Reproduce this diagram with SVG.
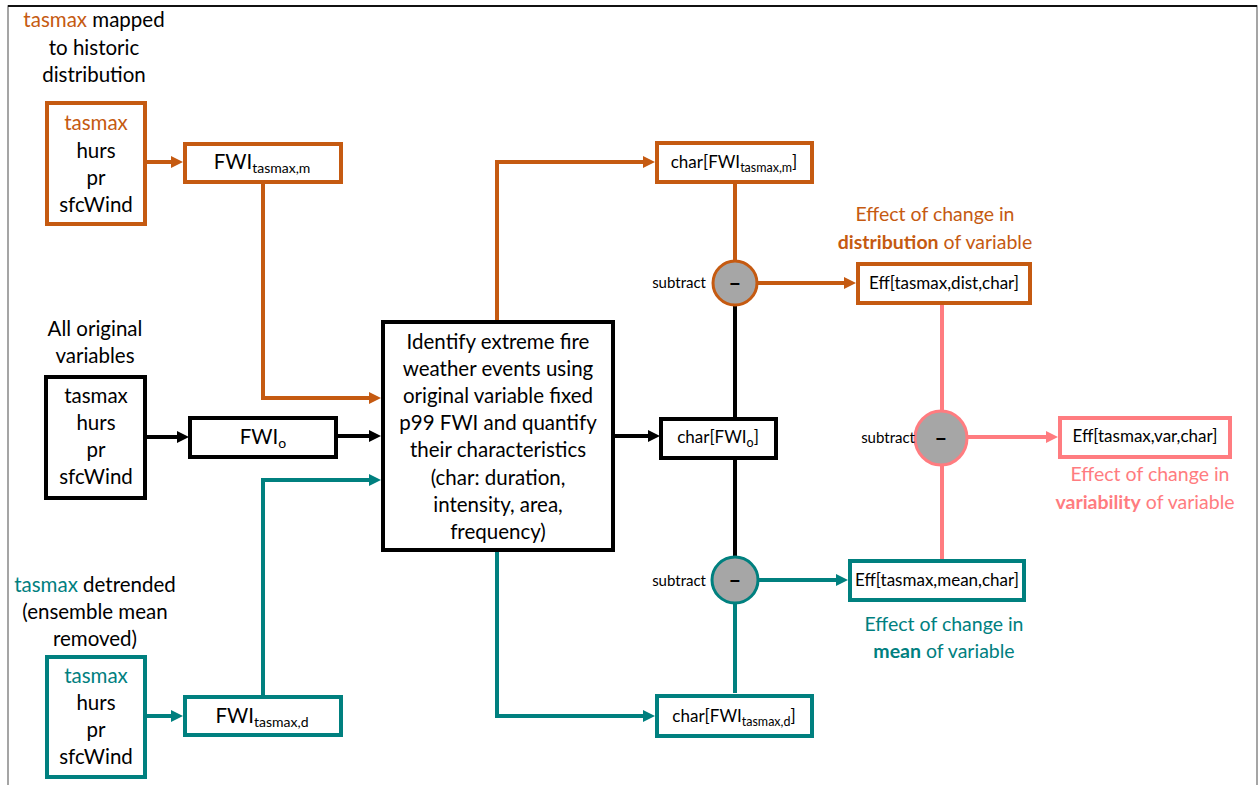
<svg xmlns="http://www.w3.org/2000/svg" width="1258" height="785" viewBox="0 0 1258 785">
<style>
text{font-family:Lato,"Liberation Sans",sans-serif;fill:#000}
.t{font-size:20.5px;text-anchor:middle}
.e{font-size:19.5px}
.s{font-size:17px;text-anchor:middle}
.sub{font-size:15px;text-anchor:end}
.o{fill:#C55A11}.g{fill:#00807F}.r{fill:#FF7C80}
.b{font-weight:bold}
.bo{fill:#fff;stroke:#C55A11;stroke-width:4}
.bk{fill:#fff;stroke:#000;stroke-width:4}
.bt{fill:#fff;stroke:#00807F;stroke-width:4}
.br{fill:#fff;stroke:#FF7C80;stroke-width:4}
.lo{fill:none;stroke:#C55A11;stroke-width:4}
.lk{fill:none;stroke:#000;stroke-width:4}
.lt{fill:none;stroke:#00807F;stroke-width:4}
.lr{fill:none;stroke:#FF7C80;stroke-width:4}
.c{fill:#A6A6A6;stroke-width:3}
.m{font-size:22px;font-weight:bold;text-anchor:middle}
</style>
<defs>
<marker id="ao" viewBox="0 0 12 12" refX="6" refY="6" markerWidth="12" markerHeight="12" markerUnits="userSpaceOnUse" orient="auto"><path d="M0,0L12,6L0,12z" fill="#C55A11"/></marker>
<marker id="ak" viewBox="0 0 12 12" refX="6" refY="6" markerWidth="12" markerHeight="12" markerUnits="userSpaceOnUse" orient="auto"><path d="M0,0L12,6L0,12z" fill="#000"/></marker>
<marker id="at" viewBox="0 0 12 12" refX="6" refY="6" markerWidth="12" markerHeight="12" markerUnits="userSpaceOnUse" orient="auto"><path d="M0,0L12,6L0,12z" fill="#00807F"/></marker>
<marker id="ar" viewBox="0 0 12 12" refX="6" refY="6" markerWidth="12" markerHeight="12" markerUnits="userSpaceOnUse" orient="auto"><path d="M0,0L12,6L0,12z" fill="#FF7C80"/></marker>
</defs>
<rect width="1258" height="785" fill="#fff"/>
<path d="M8,785V6H1257V785" fill="none" stroke="#888" stroke-width="1.5"/>
<path d="M8,6H1257" stroke="#111" stroke-width="2"/>

<g id="connectors">
<path class="lo" d="M146,162H177" marker-end="url(#ao)"/>
<path class="lo" d="M263,182V398H375" marker-end="url(#ao)"/>
<path class="lo" d="M497,321V162H649" marker-end="url(#ao)"/>
<path class="lo" d="M735,183V261"/>
<path class="lo" d="M757,283H850" marker-end="url(#ao)"/>
<path class="lk" d="M145,437H183" marker-end="url(#ak)"/>
<path class="lk" d="M337,436H375" marker-end="url(#ak)"/>
<path class="lk" d="M614,436H654" marker-end="url(#ak)"/>
<path class="lk" d="M735,305V418M735,458V556"/>
<path class="lt" d="M146,716H177" marker-end="url(#at)"/>
<path class="lt" d="M263,695V480H375" marker-end="url(#at)"/>
<path class="lt" d="M497,551V716H649" marker-end="url(#at)"/>
<path class="lt" d="M735,604V693"/>
<path class="lt" d="M759,580H842" marker-end="url(#at)"/>
<path class="lr" d="M942,304V411M942,465V559"/>
<path class="lr" d="M968,437H1052" marker-end="url(#ar)"/>
</g>

<g id="label-mapped">
<text class="t" x="94" y="27"><tspan class="o">tasmax</tspan> mapped</text>
<text class="t" x="94" y="55">to historic</text>
<text class="t" x="94" y="82">distribution</text>
</g>
<g id="vars-mapped">
<rect class="bo" x="47" y="103" width="98" height="121"/>
<text class="t o" x="96" y="130">tasmax</text>
<text class="t" x="96" y="158">hurs</text>
<text class="t" x="96" y="185">pr</text>
<text class="t" x="96" y="212">sfcWind</text>
</g>
<g id="fwi-m">
<rect class="bo" x="185" y="144" width="156" height="38"/>
<text class="t" x="262" y="169">FWI<tspan font-size="14" dy="4">tasmax,m</tspan></text>
</g>

<g id="label-original">
<text class="t" x="95" y="336">All original</text>
<text class="t" x="95" y="363">variables</text>
</g>
<g id="vars-original">
<rect class="bk" x="46" y="377" width="99" height="121"/>
<text class="t" x="96" y="403">tasmax</text>
<text class="t" x="96" y="430">hurs</text>
<text class="t" x="96" y="457">pr</text>
<text class="t" x="96" y="484">sfcWind</text>
</g>
<g id="fwi-o">
<rect class="bk" x="190" y="418" width="146" height="39"/>
<text class="t" x="263" y="444">FWI<tspan font-size="14" dy="4">o</tspan></text>
</g>

<g id="label-detrended">
<text class="t" x="95" y="592"><tspan class="g">tasmax</tspan> detrended</text>
<text class="t" x="95" y="619">(ensemble mean</text>
<text class="t" x="95" y="646">removed)</text>
</g>
<g id="vars-detrended">
<rect class="bt" x="47" y="657" width="98" height="120"/>
<text class="t g" x="96" y="683">tasmax</text>
<text class="t" x="96" y="710">hurs</text>
<text class="t" x="96" y="737">pr</text>
<text class="t" x="96" y="764">sfcWind</text>
</g>
<g id="fwi-d">
<rect class="bt" x="185" y="697" width="156" height="38"/>
<text class="t" x="262" y="723">FWI<tspan font-size="14" dy="4">tasmax,d</tspan></text>
</g>

<g id="identify">
<rect class="bk" x="383" y="322" width="230" height="228"/>
<text class="t" x="498" y="349" font-size="21">Identify extreme fire</text>
<text class="t" x="498" y="376" font-size="21">weather events using</text>
<text class="t" x="498" y="403" font-size="21">original variable fixed</text>
<text class="t" x="498" y="430" font-size="21">p99 FWI and quantify</text>
<text class="t" x="498" y="457" font-size="21">their characteristics</text>
<text class="t" x="498" y="485" font-size="21">(char: duration,</text>
<text class="t" x="498" y="512" font-size="21">intensity, area,</text>
<text class="t" x="498" y="539" font-size="21">frequency)</text>
</g>

<g id="char-m">
<rect class="bo" x="657" y="143" width="155" height="39"/>
<text class="s" x="734" y="168">char[FWI<tspan font-size="12.5" dy="4">tasmax,m</tspan><tspan dy="-4">]</tspan></text>
</g>
<g id="sub-dist">
<circle class="c" cx="735" cy="283" r="22" stroke="#C55A11"/>
<text class="m" x="735" y="291">–</text>
<text class="sub" x="706" y="288">subtract</text>
</g>
<g id="eff-dist">
<text class="t o e" x="935" y="221">Effect of change in</text>
<text class="t o e" x="935" y="249"><tspan class="b">distribution</tspan> of variable</text>
<rect class="bo" x="858" y="264" width="172" height="39"/>
<text class="s" x="944" y="289">Eff[tasmax,dist,char]</text>
</g>

<g id="char-o">
<rect class="bk" x="661" y="419" width="115" height="39"/>
<text class="s" x="718" y="443">char[FWI<tspan font-size="12.5" dy="4">o</tspan><tspan dy="-4">]</tspan></text>
</g>
<g id="sub-var">
<ellipse class="c" cx="941" cy="438" rx="26" ry="27" stroke="#FF7C80"/>
<text class="m" x="941" y="446">–</text>
<text class="sub" x="915" y="443">subtract</text>
</g>
<g id="eff-var">
<rect class="br" x="1060" y="418" width="170" height="39"/>
<text class="s" x="1145" y="442">Eff[tasmax,var,char]</text>
<text class="t r e" x="1150" y="481">Effect of change in</text>
<text class="t r e" x="1145" y="509"><tspan class="b">variability</tspan> of variable</text>
</g>

<g id="sub-mean">
<circle class="c" cx="735" cy="580" r="23" stroke="#00807F"/>
<text class="m" x="735" y="588">–</text>
<text class="sub" x="706" y="586">subtract</text>
</g>
<g id="eff-mean">
<rect class="bt" x="850" y="561" width="174" height="39"/>
<text class="s" x="937" y="586">Eff[tasmax,mean,char]</text>
<text class="t g e" x="944" y="631">Effect of change in</text>
<text class="t g e" x="944" y="658"><tspan class="b">mean</tspan> of variable</text>
</g>
<g id="char-d">
<rect class="bt" x="657" y="696" width="155" height="40"/>
<text class="s" x="734" y="722">char[FWI<tspan font-size="12.5" dy="4">tasmax,d</tspan><tspan dy="-4">]</tspan></text>
</g>
</svg>
